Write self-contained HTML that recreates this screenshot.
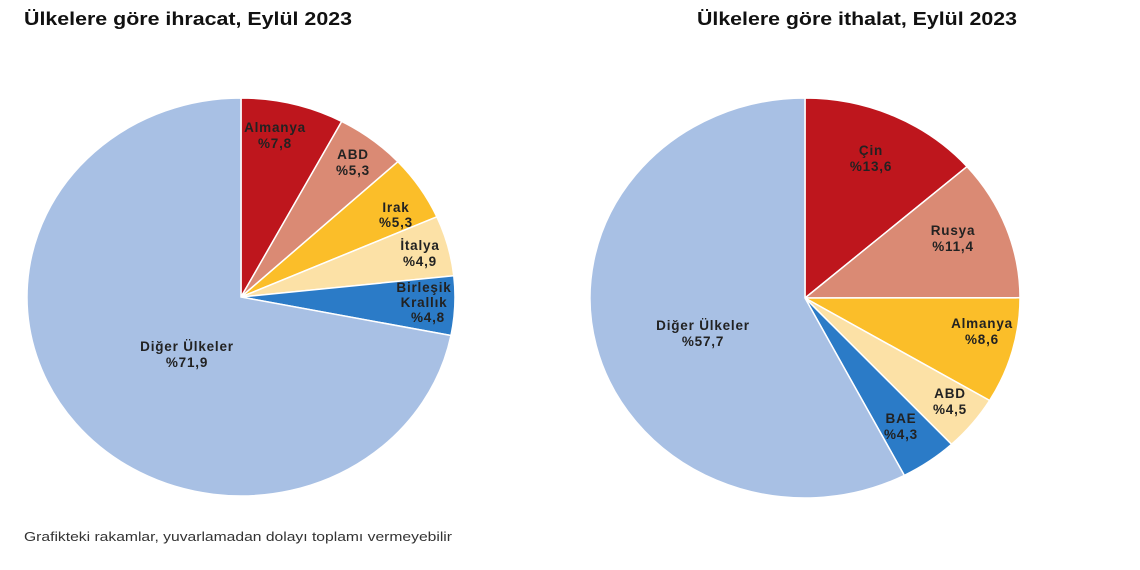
<!DOCTYPE html>
<html><head><meta charset="utf-8">
<style>
body{margin:0;background:#fff;width:1140px;height:570px;overflow:hidden;font-family:"Liberation Sans",Arial,sans-serif;}
svg{position:absolute;left:0;top:0}
</style></head><body>
<svg id="s" width="1140" height="570" xmlns="http://www.w3.org/2000/svg" font-family="Liberation Sans, Arial, sans-serif">
<text x="24" y="25" font-size="18" font-weight="bold" fill="#111" textLength="328" lengthAdjust="spacingAndGlyphs">Ülkelere göre ihracat, Eylül 2023</text>
<text x="697" y="25" font-size="18" font-weight="bold" fill="#111" textLength="320" lengthAdjust="spacingAndGlyphs">Ülkelere göre ithalat, Eylül 2023</text>
<g id="p1"></g><g id="p2"></g>
<g font-size="13.5" font-weight="bold" fill="#222" text-anchor="middle" letter-spacing="0.8">
<text x="275" y="132">Almanya</text><text x="275" y="148">%7,8</text>
<text x="353" y="159">ABD</text><text x="353" y="175">%5,3</text>
<text x="396" y="212">Irak</text><text x="396" y="227">%5,3</text>
<text x="420" y="250">İtalya</text><text x="420" y="266">%4,9</text>
<text x="424" y="292">Birleşik</text><text x="424" y="307">Krallık</text><text x="428" y="322">%4,8</text>
<text x="187" y="351">Diğer Ülkeler</text><text x="187" y="367">%71,9</text>
<text x="871" y="155">Çin</text><text x="871" y="171">%13,6</text>
<text x="953" y="235">Rusya</text><text x="953" y="251">%11,4</text>
<text x="982" y="328">Almanya</text><text x="982" y="344">%8,6</text>
<text x="950" y="398">ABD</text><text x="950" y="414">%4,5</text>
<text x="901" y="423">BAE</text><text x="901" y="439">%4,3</text>
<text x="703" y="330">Diğer Ülkeler</text><text x="703" y="346">%57,7</text>
</g>
<text x="24" y="541" font-size="13" fill="#333" textLength="428" lengthAdjust="spacingAndGlyphs">Grafikteki rakamlar, yuvarlamadan dolayı toplamı vermeyebilir</text>
</svg>
<script>
function pie(id,cx,cy,rx,ry,vals,cols){
 var g=document.getElementById(id),tot=vals.reduce((a,b)=>a+b,0),a=0,h='';
 vals.forEach(function(v,i){
  var a0=a/tot*2*Math.PI,a1=(a+v)/tot*2*Math.PI;a+=v;
  var x0=cx+rx*Math.sin(a0),y0=cy-ry*Math.cos(a0),x1=cx+rx*Math.sin(a1),y1=cy-ry*Math.cos(a1);
  h+='<path d="M'+cx+' '+cy+' L'+x0+' '+y0+' A'+rx+' '+ry+' 0 '+((a1-a0)>Math.PI?1:0)+' 1 '+x1+' '+y1+' Z" fill="'+cols[i]+'" stroke="#fff" stroke-width="1.5"/>';
 });
 g.innerHTML=h;
}
pie('p1',241,297,214,199,[7.8,5.3,5.3,4.9,4.8,71.9],['#BE161D','#DA8A74','#FBBE29','#FCE1A6','#2B7BC7','#A8C0E4']);
pie('p2',805,298,215,200,[13.6,11.4,8.6,4.5,4.3,57.7],['#BE161D','#DA8A74','#FBBE29','#FCE1A6','#2B7BC7','#A8C0E4']);
</script>
</body></html>
